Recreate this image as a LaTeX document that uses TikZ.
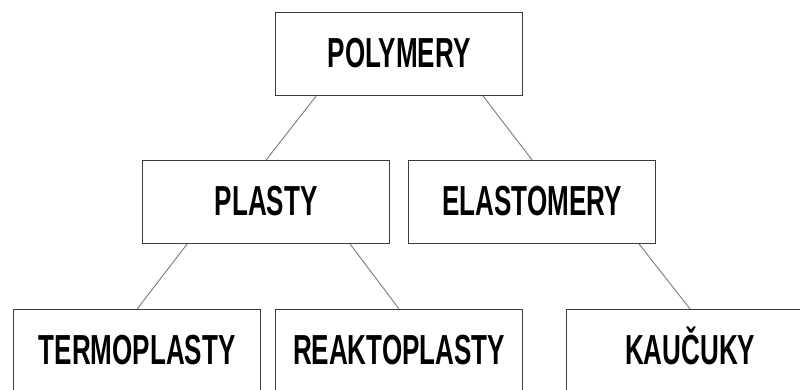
\documentclass[tikz,border=0pt]{standalone}
\usepackage{fontspec}
\setmainfont{Liberation Sans}[FakeStretch=0.62,BoldFont={Liberation Sans Bold},BoldFeatures={FakeStretch=0.62}]
\usetikzlibrary{calc}
\definecolor{boxline}{HTML}{3C3C3C}
\definecolor{connline}{HTML}{7A7A7A}
\tikzset{
  catbox/.style={draw=boxline, line width=1.2pt, fill=white, minimum width=247pt, minimum height=83pt, inner sep=0pt, anchor=north west, text height=30pt, text depth=3pt, font=\bfseries\fontsize{42}{42}\selectfont},
  conn/.style={draw=connline, line width=0.9pt}
}
\begin{document}
\begin{tikzpicture}[x=1pt,y=-1pt]
\clip (0,0) rectangle (800,389);
\fill[white] (0,0) rectangle (800,389);
\node[catbox] (poly) at (275,12) {POLYMERY};
\node[catbox] (plasty) at (142,160) {PLASTY};
\node[catbox] (elasto) at (408,160) {ELASTOMERY};
\node[catbox] (termo) at (13,309) {TERMOPLASTY};
\node[catbox] (reakto) at (275,309) {REAKTOPLASTY};
\node[catbox] (kauc) at (566,309) {KAUČUKY};
\draw[conn] ([xshift=41pt]poly.south west) -- (plasty.north);
\draw[conn] ([xshift=-40pt]poly.south east) -- (elasto.north);
\draw[conn] ([xshift=45pt]plasty.south west) -- (termo.north);
\draw[conn] ([xshift=-40pt]plasty.south east) -- (reakto.north);
\draw[conn] ([xshift=-17pt]elasto.south east) -- (kauc.north);
\end{tikzpicture}
\end{document}
